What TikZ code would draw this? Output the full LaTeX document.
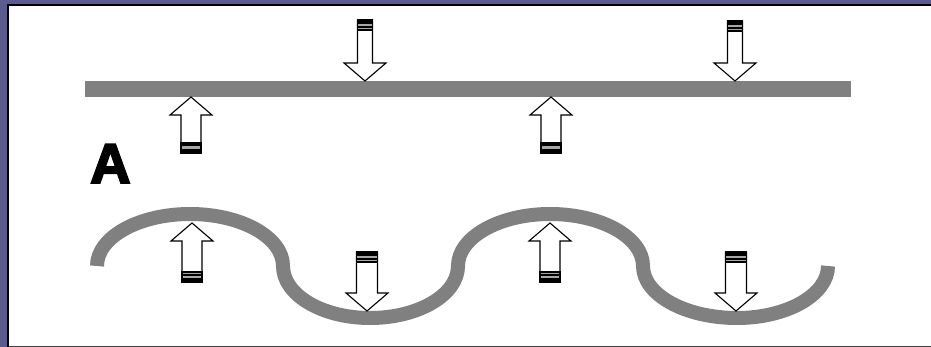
\documentclass[tikz,border=0pt]{standalone}
\usepackage{fontspec}
\newfontfamily\Afont{Liberation Sans}[BoldFeatures={FakeBold=3.5}]
\definecolor{frameblue}{HTML}{5B5B8E}
\definecolor{bargray}{HTML}{808080}
\tikzset{
  barline/.style={fill=bargray, draw=none},
  waveline/.style={draw=bargray, line width=14pt, line cap=butt},
  arrbody/.style={fill=white, draw=black, line width=1.1pt, line join=miter},
  stripe/.style={fill=black, draw=none},
  stripegray/.style={fill=black!35, draw=none}
}
% down arrow: x, top y, tip y, half shaft width
\newcommand{\DArrow}[4]{%
  \draw[arrbody] ({#1-#4},{#2}) -- ({#1+#4},{#2}) -- ({#1+#4},{#3-18}) -- ({#1+21},{#3-18})
     -- ({#1},{#3}) -- ({#1-21},{#3-18}) -- ({#1-#4},{#3-18}) -- cycle;
  \fill[stripe] ({#1-#4},{#2}) rectangle ({#1+#4},{#2+4});
  \fill[stripegray] ({#1-#4},{#2+4}) rectangle ({#1+#4},{#2+6.5});
  \fill[stripe] ({#1-#4},{#2+6.5}) rectangle ({#1+#4},{#2+8.5});
  \fill[stripegray] ({#1-#4},{#2+8.5}) rectangle ({#1+#4},{#2+10});
  \draw[black, line width=1.1pt] ({#1-#4},{#2}) rectangle ({#1+#4},{#2+10});
}
% up arrow: x, bottom y, tip y, half shaft width
\newcommand{\UArrow}[4]{%
  \draw[arrbody] ({#1-#4},{#2}) -- ({#1+#4},{#2}) -- ({#1+#4},{#3+18}) -- ({#1+21},{#3+18})
     -- ({#1},{#3}) -- ({#1-21},{#3+18}) -- ({#1-#4},{#3+18}) -- cycle;
  \fill[stripe] ({#1-#4},{#2}) rectangle ({#1+#4},{#2-4});
  \fill[stripegray] ({#1-#4},{#2-4}) rectangle ({#1+#4},{#2-6.5});
  \fill[stripe] ({#1-#4},{#2-6.5}) rectangle ({#1+#4},{#2-8.5});
  \fill[stripegray] ({#1-#4},{#2-8.5}) rectangle ({#1+#4},{#2-10});
  \draw[black, line width=1.1pt] ({#1-#4},{#2}) rectangle ({#1+#4},{#2-10});
}
\begin{document}
\begin{tikzpicture}[x=1pt, y=-1pt]
\useasboundingbox (0,0) rectangle (931,347);
% frame
\fill[white] (0,0) rectangle (931,347);
\fill[frameblue] (0,0) rectangle (931,4);
\fill[frameblue] (0,0) rectangle (7,347);
\fill[black] (7,4) rectangle (931,6);
\fill[black] (7,4) rectangle (9,347);
\fill[black!75] (9,345.5) rectangle (931,347);
% straight bar
\fill[barline] (85,81) rectangle (851,97);
% wavy line
\draw[waveline] (97,266)
  .. controls (97,237.3) and (138.6,214) .. (190,214)
  .. controls (241.4,214) and (283,237.3) .. (283,266)
  .. controls (283,294.7) and (321.9,318) .. (370,318)
  .. controls (418.6,318) and (458,294.7) .. (458,266)
  .. controls (458,237.3) and (499.2,214) .. (550,214)
  .. controls (601.4,214) and (643,237.3) .. (643,266)
  .. controls (643,294.7) and (685.1,318) .. (737,318)
  .. controls (787.3,318) and (828,294.7) .. (828,266);
% arrows on straight bar
\DArrow{365}{20}{81}{7.5}
\DArrow{735}{21}{81}{7.5}
\UArrow{191}{153}{97}{10}
\UArrow{551}{153}{97}{10}
% arrows on wave
\UArrow{192}{282}{223}{10}
\UArrow{550}{282}{223}{10}
\DArrow{367}{252}{311}{10.5}
\DArrow{736}{252}{311}{10.5}
% label
\node[anchor=base west, inner sep=0pt, font=\Afont\bfseries\fontsize{56}{56}\selectfont] (labelA) at (90,183) {A};
\end{tikzpicture}
\end{document}
